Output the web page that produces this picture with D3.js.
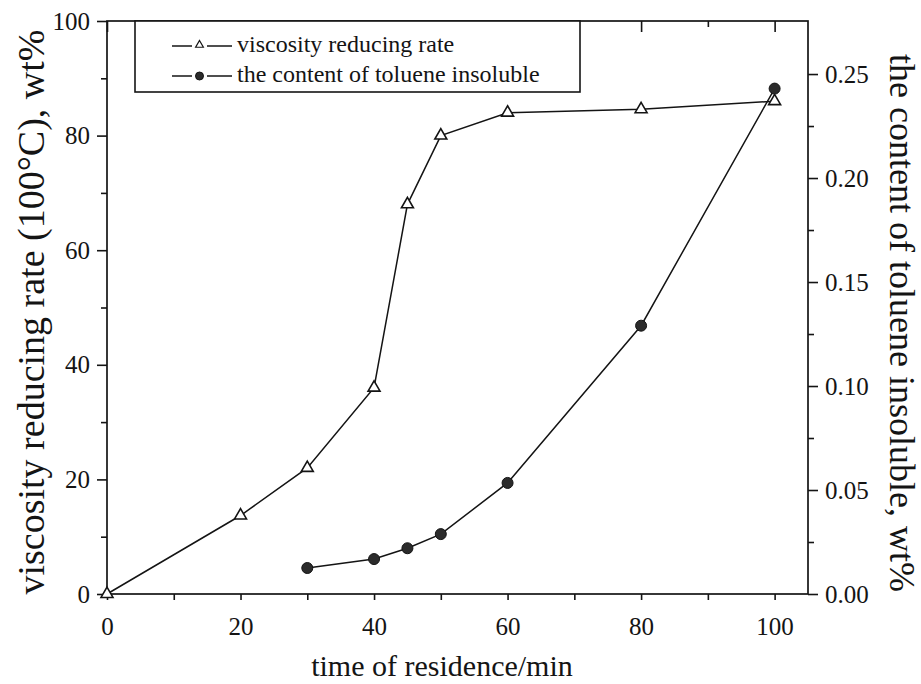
<!DOCTYPE html>
<html>
<head>
<meta charset="utf-8">
<script src="https://cdn.jsdelivr.net/npm/d3@7"></script>
<style>
  html, body { margin: 0; padding: 0; background: #fff; }
  svg { display: block; font-family: "Liberation Serif", "Times New Roman", serif; }
</style>
</head>
<body>
<svg id="chart" width="921" height="684"></svg>
<script>
// Residence time (min) and the two measured quantities
const viscTime = [0, 20, 30, 40, 45, 50, 60, 80, 100];
const viscRate = [0, 13.7, 22, 36, 68, 80, 84, 84.6, 86];          // viscosity reducing rate, wt%
const tolTime = [30, 40, 45, 50, 60, 80, 100];
const tolContent = [0.0125, 0.0168, 0.022, 0.0288, 0.0534, 0.129, 0.243]; // toluene insoluble, wt%

const xTicks = [0, 10, 20, 30, 40, 50, 60, 70, 80, 90, 100];
const xLabels = ["0", "", "20", "", "40", "", "60", "", "80", "", "100"];
const yLeftTicks = [0, 10, 20, 30, 40, 50, 60, 70, 80, 90, 100];
const yLeftLabels = ["0", "", "20", "", "40", "", "60", "", "80", "", "100"];
const yRightTicks = [0, 0.025, 0.05, 0.075, 0.10, 0.125, 0.15, 0.175, 0.20, 0.225, 0.25];
const yRightLabels = ["0.00", "", "0.05", "", "0.10", "", "0.15", "", "0.20", "", "0.25"];

const legendLabels = ["viscosity reducing rate", "the content of toluene insoluble"];
const xTitle = "time of residence/min";
const yLeftTitle = "viscosity reducing rate (100°C), wt%";
const yRightTitle = "the content of toluene insoluble, wt%";

const svg = d3.select("#chart");
const m = { left: 107, right: 808, top: 21, bottom: 594 };
const ink = "#141414";

const x = d3.scaleLinear().domain([0, 105]).range([m.left, m.right]);
const yL = d3.scaleLinear().domain([0, 100]).range([m.bottom, m.top]);
const yR = d3.scaleLinear().domain([0, 0.2755]).range([m.bottom, m.top]);

function styleAxis(g) {
  g.select(".domain").remove();
  g.selectAll("line").attr("stroke", ink).attr("stroke-width", 1.6);
  g.selectAll("text").attr("fill", ink).attr("font-size", 25)
    .attr("font-family", "'Liberation Serif', 'Times New Roman', serif");
}

// bottom axis: every tick the same length, outward
svg.append("g").attr("transform", `translate(0,${m.bottom})`)
  .call(d3.axisBottom(x).tickValues(xTicks).tickSize(6).tickPadding(17)
    .tickFormat((d, i) => xLabels[i]))
  .call(styleAxis);

// top axis: inward ticks, no labels
svg.append("g").attr("transform", `translate(0,${m.top})`)
  .call(d3.axisBottom(x).tickValues(xTicks).tickSize(6).tickFormat(""))
  .call(styleAxis)
  .selectAll(".tick line").attr("y2", (d, i) => i % 2 === 0 ? 11 : 6);

// left axis: major/minor outward ticks
const gL = svg.append("g").attr("transform", `translate(${m.left},0)`)
  .call(d3.axisLeft(yL).tickValues(yLeftTicks).tickSize(10).tickPadding(7)
    .tickFormat((d, i) => yLeftLabels[i]))
  .call(styleAxis);
gL.selectAll(".tick line").attr("x2", (d, i) => i % 2 === 0 ? -10 : -6);

// right axis
const gR = svg.append("g").attr("transform", `translate(${m.right},0)`)
  .call(d3.axisRight(yR).tickValues(yRightTicks).tickSize(10).tickPadding(7)
    .tickFormat((d, i) => yRightLabels[i]))
  .call(styleAxis);
gR.selectAll(".tick line").attr("x2", (d, i) => i % 2 === 0 ? 10 : 6);

// frame
svg.append("rect")
  .attr("x", m.left).attr("y", m.top)
  .attr("width", m.right - m.left).attr("height", m.bottom - m.top)
  .attr("fill", "none").attr("stroke", ink).attr("stroke-width", 1.7);

// series lines
const viscPts = viscTime.map((t, i) => [t, viscRate[i]]);
const tolPts = tolTime.map((t, i) => [t, tolContent[i]]);

svg.append("path")
  .attr("d", d3.line().x(d => x(d[0])).y(d => yL(d[1]))(viscPts))
  .attr("fill", "none").attr("stroke", ink).attr("stroke-width", 1.5);
svg.append("path")
  .attr("d", d3.line().x(d => x(d[0])).y(d => yR(d[1]))(tolPts))
  .attr("fill", "none").attr("stroke", ink).attr("stroke-width", 1.5);

const tri = d3.symbol().type(d3.symbolTriangle);

svg.append("g").selectAll("path").data(viscPts).join("path")
  .attr("transform", d => `translate(${x(d[0])},${yL(d[1])})`)
  .attr("d", tri.size(62)())
  .attr("fill", "#fff").attr("stroke", ink).attr("stroke-width", 1.6);

svg.append("g").selectAll("circle").data(tolPts).join("circle")
  .attr("cx", d => x(d[0])).attr("cy", d => yR(d[1])).attr("r", 5.5)
  .attr("fill", "#2b2b2b").attr("stroke", ink).attr("stroke-width", 1);

// legend
const lg = svg.append("g");
lg.append("rect").attr("x", 135).attr("y", m.top).attr("width", 445).attr("height", 71)
  .attr("fill", "#fff").attr("stroke", ink).attr("stroke-width", 1.6);
const rows = lg.selectAll("g.row").data(legendLabels).join("g")
  .attr("class", "row")
  .attr("transform", (d, i) => `translate(0,${i * 30})`);
rows.append("line").attr("x1", 172).attr("x2", 192).attr("y1", 46).attr("y2", 46)
  .attr("stroke", ink).attr("stroke-width", 1.5);
rows.append("line").attr("x1", 207).attr("x2", 232).attr("y1", 46).attr("y2", 46)
  .attr("stroke", ink).attr("stroke-width", 1.5);
rows.filter((d, i) => i === 0).append("path")
  .attr("transform", "translate(199.5,45)")
  .attr("d", tri.size(26)())
  .attr("fill", "#fff").attr("stroke", ink).attr("stroke-width", 1.2);
rows.filter((d, i) => i === 1).append("circle")
  .attr("cx", 199.5).attr("cy", 46).attr("r", 4)
  .attr("fill", "#2b2b2b").attr("stroke", ink);
rows.append("text").attr("x", 237).attr("y", 52)
  .attr("font-size", 24).attr("fill", ink).text(d => d);

// axis titles
svg.append("text")
  .attr("x", 442).attr("y", 676).attr("text-anchor", "middle")
  .attr("font-size", 30).attr("fill", ink).text(xTitle);

svg.append("text")
  .attr("transform", "translate(44,312) rotate(-90)")
  .attr("text-anchor", "middle")
  .attr("font-size", 38).attr("fill", ink).text(yLeftTitle);

svg.append("text")
  .attr("transform", "translate(890,323) rotate(90)")
  .attr("text-anchor", "middle")
  .attr("font-size", 36).attr("fill", ink).text(yRightTitle);
</script>
</body>
</html>
